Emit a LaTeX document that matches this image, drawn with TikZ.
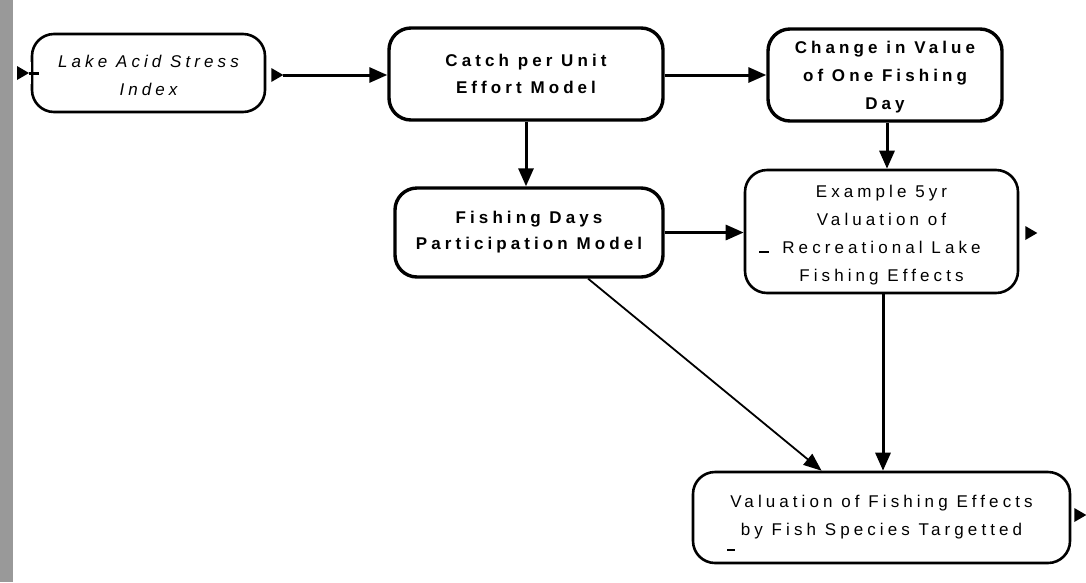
\documentclass[tikz,border=0pt]{standalone}
\usepackage{fontspec}
\newfontfamily\spacedfont{Liberation Sans}[LetterSpace=24]
\usetikzlibrary{arrows.meta,calc}
\begin{document}
\begin{tikzpicture}[x=1pt,y=-1pt,
  boxtext/.style={font=\spacedfont\fontsize{17}{27.5}\selectfont},
  box/.style={draw, line width=3.4pt, rounded corners=22pt, align=center, inner sep=0pt, boxtext},
  thinbox/.style={box, line width=2.6pt},
  conn/.style={line width=3pt, -{Triangle[length=18pt,width=15pt]}},
  thinconn/.style={line width=1.8pt, -{Triangle[length=18pt,width=14pt]}},
  port/.style={fill=black},
  tick/.style={line width=1.1pt}]
\useasboundingbox (0,0) rectangle (1086,582);
% scanned edge strip
\fill[black!40] (0,0) rectangle (13,582);
% boxes
\node[thinbox, font=\spacedfont\itshape\fontsize{17}{28}\selectfont, minimum width=233pt, minimum height=78pt] (lake) at (148.5,73) {\rule{0pt}{17pt}Lake Acid Stress\\Index};
\node[box, font=\spacedfont\bfseries\fontsize{17}{27}\selectfont, minimum width=274pt, minimum height=92pt] (catch) at (526,74) {Catch per Unit\\Effort Model};
\node[box, font=\spacedfont\bfseries\fontsize{17}{28}\selectfont, minimum width=234pt, minimum height=92pt] (change) at (885,75) {\rule{0pt}{17pt}Change in Value\\of One Fishing\\Day};
\node[box, font=\spacedfont\bfseries\fontsize{17}{26}\selectfont, minimum width=268pt, minimum height=89pt] (fishing) at (529,232.5) {Fishing Days\\Participation Model};
\node[thinbox, font=\spacedfont\fontsize{17}{28}\selectfont, minimum width=273pt, minimum height=123pt] (example) at (881.5,231.5) {\rule{0pt}{19pt}Example 5yr\\Valuation of\\Recreational Lake\\Fishing Effects};
\node[thinbox, font=\spacedfont\fontsize{17}{28}\selectfont, minimum width=377pt, minimum height=91pt] (valuation) at (881.5,517.5) {Valuation of Fishing Effects\\by Fish Species Targetted};
% input marker of lake box
\fill[white] (13,62) rectangle (31,84);
\fill[port] (17,66) -- (29,73) -- (17,80) -- cycle;
\coordinate (lakein) at (29,73);
\coordinate (lakeinend) at ($(lake.west)+(8,0)$);
\draw[line width=3pt] (lakein) -- (lakeinend);
% output ports
\coordinate (lakeout) at ($(lake.east)+(17,2)$);
\fill[port] ($(lake.east)+(5,-5)$) -- (lakeout) -- ($(lake.east)+(5,9)$) -- cycle;
\coordinate (exout) at ($(example.east)+(18,1.5)$);
\fill[port] ($(example.east)+(6,-5.5)$) -- (exout) -- ($(example.east)+(6,8.5)$) -- cycle;
\coordinate (valout) at ($(valuation.east)+(15,-2.5)$);
\fill[port] ($(valuation.east)+(3,-9.5)$) -- (valout) -- ($(valuation.east)+(3,4.5)$) -- cycle;
% small tick marks
\draw[tick] (759,252) -- (769,252);
\draw[tick] (727,550) -- (735,550);
% connector end points
\coordinate (catchE) at ($(catch.east)+(0,1)$);
\coordinate (changeS) at ($(change.south)+(2,0)$);
\coordinate (exampleS) at ($(example.south)+(1.5,0)$);
% connectors
\draw[conn] (lakeout) -- (lakeout -| catch.west);
\draw[conn] (catchE) -- (catchE -| change.west);
\draw[conn] (catch.south) -- (catch.south |- fishing.north);
\draw[conn] (changeS) -- (changeS |- example.north);
\draw[conn] (fishing.east) -- (fishing.east -| example.west);
\draw[conn] (exampleS) -- (exampleS |- valuation.north);
\draw[thinconn] (fishing.-38.5) -- (valuation.142);
\end{tikzpicture}
\end{document}
